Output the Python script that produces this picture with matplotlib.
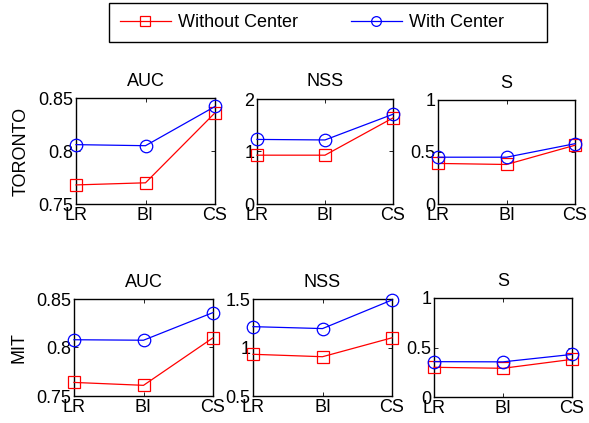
import matplotlib
matplotlib.use("Agg")
import matplotlib.pyplot as plt
from matplotlib.lines import Line2D
from matplotlib.patches import Rectangle

plt.rcParams['font.family'] = ['Liberation Sans', 'DejaVu Sans']
plt.rcParams['font.size'] = 13

W, H = 589, 423

methods = ["LR", "BI", "CS"]
metrics = ["AUC", "NSS", "S"]
datasets = ["TORONTO", "MIT"]

# Toronto
tor_auc_without = [0.768, 0.770, 0.836]
tor_auc_with = [0.806, 0.805, 0.842]
tor_nss_without = [0.93, 0.93, 1.64]
tor_nss_with = [1.23, 1.22, 1.71]
tor_s_without = [0.39, 0.38, 0.565]
tor_s_with = [0.45, 0.45, 0.58]

# MIT
mit_auc_without = [0.764, 0.761, 0.810]
mit_auc_with = [0.808, 0.8075, 0.836]
mit_nss_without = [0.93, 0.905, 1.10]
mit_nss_with = [1.215, 1.195, 1.49]
mit_s_without = [0.30, 0.29, 0.38]
mit_s_with = [0.357, 0.355, 0.43]

without = [[tor_auc_without, tor_nss_without, tor_s_without],
           [mit_auc_without, mit_nss_without, mit_s_without]]
with_c = [[tor_auc_with, tor_nss_with, tor_s_with],
          [mit_auc_with, mit_nss_with, mit_s_with]]

ylims = [[(0.75, 0.85), (0, 2), (0, 1)],
         [(0.75, 0.85), (0.5, 1.5), (0, 1)]]
yticks = [[[0.75, 0.8, 0.85], [0, 1, 2], [0, 0.5, 1]],
          [[0.75, 0.8, 0.85], [0.5, 1, 1.5], [0, 0.5, 1]]]
yticklabels = [[["0.75", "0.8", "0.85"], ["0", "1", "2"], ["0", "0.5", "1"]],
               [["0.75", "0.8", "0.85"], ["0.5", "1", "1.5"], ["0", "0.5", "1"]]]

# axes boxes in pixels: (left, right, top, bottom)
boxes = [[(76, 215, 98, 204), (257, 393, 99, 204), (438, 575, 100, 204)],
         [(74, 213, 299, 396), (253, 392, 299, 396), (434, 572, 298, 397)]]

fig = plt.figure(figsize=(W / 100, H / 100), dpi=100)

x = [1, 2, 3]
for r in range(2):
    for c in range(3):
        l, rt, t, b = boxes[r][c]
        ax = fig.add_axes([l / W, 1 - b / H, (rt - l) / W, (b - t) / H])
        ax.plot(x, without[r][c], color='red', marker='s', markersize=8,
                markerfacecolor='none', linewidth=0.9, markeredgewidth=0.9,
                clip_on=False, zorder=3)
        ax.plot(x, with_c[r][c], color='blue', marker='o', markersize=9,
                markerfacecolor='none', linewidth=0.9, markeredgewidth=0.9,
                clip_on=False, zorder=3)
        ax.set_xlim(1, 3)
        ax.set_ylim(*ylims[r][c])
        ax.set_xticks(x)
        ax.set_xticklabels(methods)
        ax.set_yticks(yticks[r][c])
        ax.set_yticklabels(yticklabels[r][c])
        ax.tick_params(direction='in', length=3, width=0.6, top=True,
                       right=True, pad=2, labelsize=13)
        for s in ax.spines.values():
            s.set_linewidth(1.0)
        ax.set_title(metrics[c], fontsize=13, pad=9)
        if c == 0:
            ax.set_ylabel(datasets[r], fontsize=13, labelpad=6)

# legend box (MATLAB style, wide right padding)
fig.patches.append(Rectangle((109 / W, 1 - 42 / H), (547 - 109) / W, 39 / H,
                             transform=fig.transFigure, facecolor='white',
                             edgecolor='black', linewidth=1.0))

handles = [
    Line2D([], [], color='red', marker='s', markersize=7, markerfacecolor='none',
           linewidth=0.9, markeredgewidth=0.9),
    Line2D([], [], color='blue', marker='o', markersize=7, markerfacecolor='none',
           linewidth=0.9, markeredgewidth=0.9),
]
leg = fig.legend(handles, ["Without Center", "With Center"], ncol=2,
                 loc='center left', bbox_to_anchor=(120 / W, 1 - 22.5 / H),
                 frameon=False, borderpad=0, borderaxespad=0,
                 handlelength=2.82, handletextpad=0.39, columnspacing=2.93,
                 fontsize=13)

fig.savefig("out.png", dpi=100)
